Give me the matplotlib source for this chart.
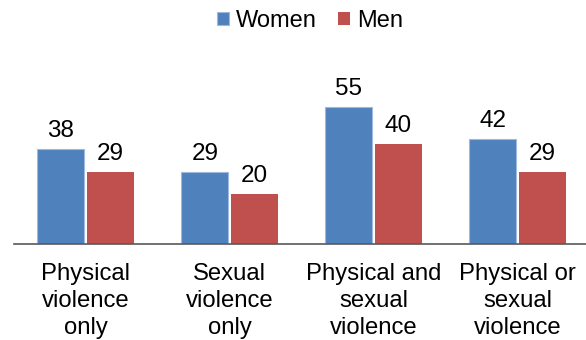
import matplotlib.pyplot as plt
import numpy as np

plt.rcParams["font.family"] = ["Liberation Sans", "DejaVu Sans"]

categories = ["Physical\nviolence\nonly", "Sexual\nviolence\nonly",
              "Physical and\nsexual\nviolence", "Physical or\nsexual\nviolence"]
women = [38, 29, 55, 42]
men = [29, 20, 40, 29]

COLOR_WOMEN = "#4F81BD"
COLOR_MEN = "#C0504D"

fig = plt.figure(figsize=(5.86, 3.4), dpi=100)
ax = fig.add_axes([13.7 / 586, 96 / 340, 576 / 586, 149.6 / 340])

x = np.arange(len(categories))
w = 0.326
off = 0.172
bw = ax.bar(x - off, women, w, color=COLOR_WOMEN, edgecolor="#9DB9DD",
            linewidth=0.8, label="Women")
bm = ax.bar(x + off, men, w, color=COLOR_MEN, label="Men")

for bars in (bw, bm):
    for b in bars:
        ax.annotate(f"{b.get_height():.0f}", (b.get_x() + b.get_width() / 2, b.get_height()),
                    xytext=(0, 5), textcoords="offset points",
                    ha="center", va="bottom", fontsize=17.5)

ax.set_xlim(-0.5, 3.5)
ax.set_ylim(0, 60)
ax.set_xticks(x)
ax.set_xticklabels(categories, fontsize=17.2, linespacing=1.27)
ax.tick_params(axis="x", length=0, pad=14)
ax.set_yticks([])
for s in ("top", "right", "left"):
    ax.spines[s].set_visible(False)
ax.spines["bottom"].set_color("#595959")
ax.spines["bottom"].set_linewidth(1.2)

fig.legend(handles=[bw, bm], loc="center", bbox_to_anchor=(310 / 586, 1 - 21 / 340),
           ncol=2, frameon=False, fontsize=17, handlelength=0.5, handleheight=0.5,
           handletextpad=0.3, columnspacing=0.9)

fig.savefig("out.png", dpi=100)
